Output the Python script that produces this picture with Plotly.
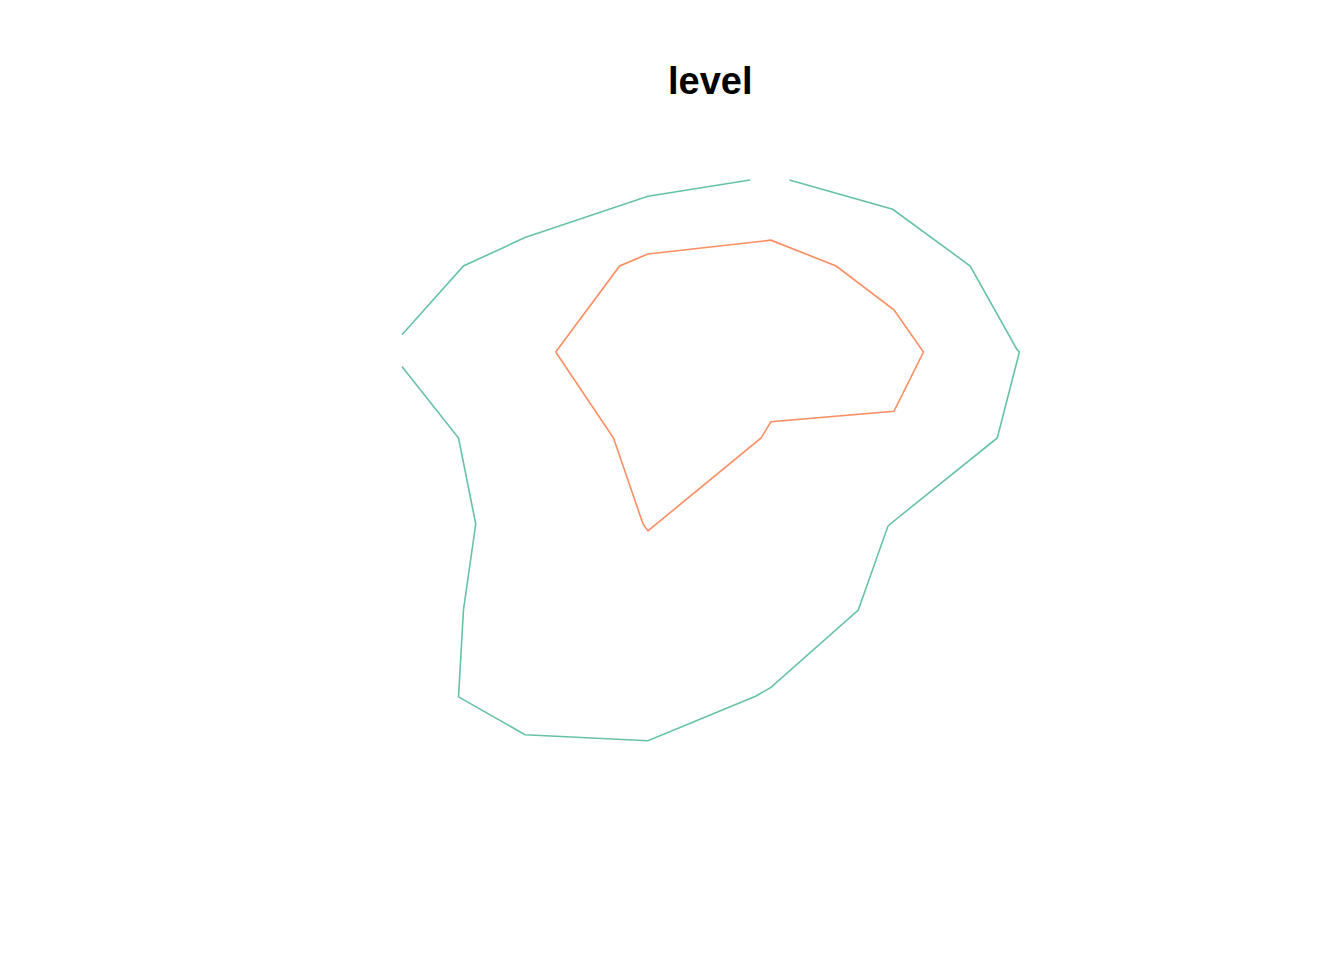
import plotly.graph_objects as go

# Contour level 1 (green) – open line touching the grid boundary (two pieces)
green_a_x = [4.15, 4.99, 5.62, 6.00, 6.02, 5.84, 4.97, 4.95, 4.71, 4.00, 3.88, 3.00, 2.00, 1.46, 1.50, 1.60, 1.46, 1.00]
green_a_y = [10.0, 9.66, 9.00, 8.03, 8.00, 7.00, 6.00, 5.97, 5.00, 4.10, 4.00, 3.48, 3.55, 3.99, 5.00, 6.00, 7.00, 7.83]
green_b_x = [1.00, 1.50, 2.00, 3.00, 3.83]
green_b_y = [8.20, 9.00, 9.33, 9.81, 10.0]

# Contour level 2 (orange) – closed line
orange_x = [2.25, 2.77, 3.00, 4.00, 4.53, 5.00, 5.24, 5.00, 4.00, 3.92, 3.00, 2.96, 2.72, 2.25]
orange_y = [8.00, 9.00, 9.14, 9.30, 9.00, 8.49, 8.00, 7.31, 7.19, 7.00, 5.92, 6.00, 7.00, 8.00]

GREEN = "#66C2A5"
ORANGE = "#FC8D62"

fig = go.Figure()
fig.add_trace(go.Scatter(x=green_a_x, y=green_a_y, mode="lines",
                         line=dict(color=GREEN, width=1.6), showlegend=False, hoverinfo="skip"))
fig.add_trace(go.Scatter(x=green_b_x, y=green_b_y, mode="lines",
                         line=dict(color=GREEN, width=1.6), showlegend=False, hoverinfo="skip"))
fig.add_trace(go.Scatter(x=orange_x, y=orange_y, mode="lines",
                         line=dict(color=ORANGE, width=1.6), showlegend=False, hoverinfo="skip"))

fig.update_layout(
    width=1344, height=960,
    margin=dict(l=0, r=0, t=0, b=0),
    paper_bgcolor="white", plot_bgcolor="white",
    xaxis=dict(range=[-2.268, 8.659], visible=False, fixedrange=True),
    yaxis=dict(range=[0.930, 12.093], visible=False, fixedrange=True),
    annotations=[dict(text="<b>level</b>", x=710/1344, y=1 - 81/960,
                      xref="paper", yref="paper", xanchor="center", yanchor="middle",
                      showarrow=False,
                      font=dict(family="Liberation Sans, Arial, sans-serif", size=38, color="black"))],
)

fig.write_html("out.html")
